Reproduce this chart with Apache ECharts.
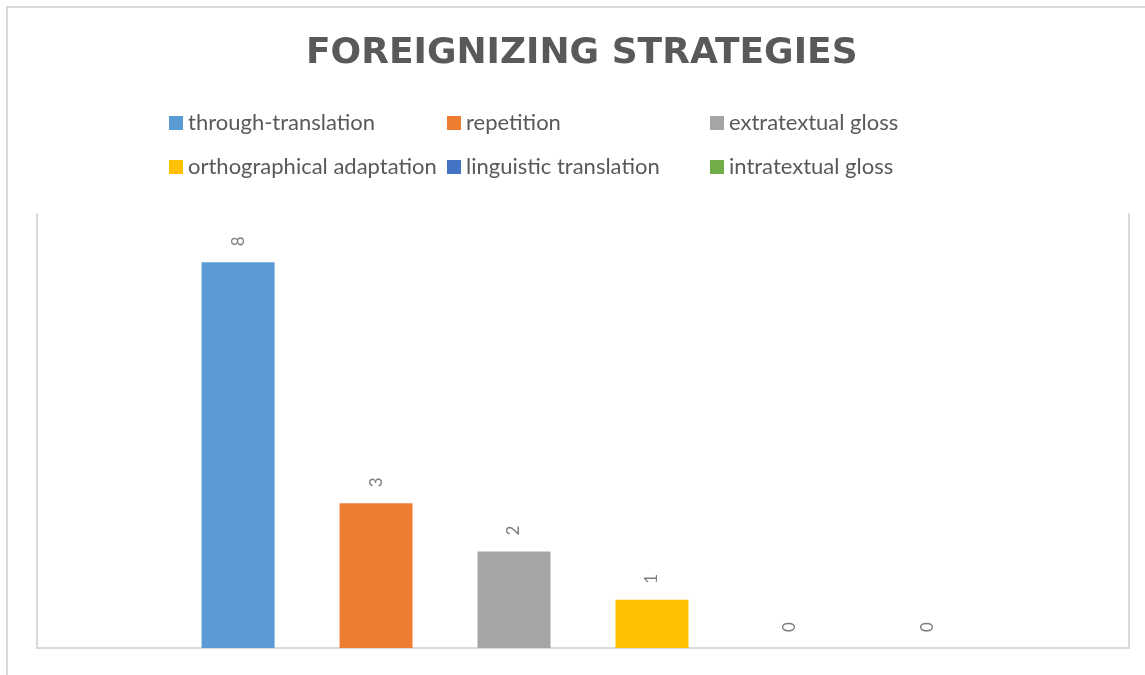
<!DOCTYPE html>
<html>
<head>
<meta charset="utf-8">
<script src="https://cdn.jsdelivr.net/npm/echarts@6/dist/echarts.min.js"></script>
<style>
  html, body { margin: 0; padding: 0; background: #fff; }
  #chart { width: 1145px; height: 675px; }
</style>
</head>
<body>
<div id="chart"></div>
<script>
// 数据
const categories = [''];
const strategyNames = [
  'through-translation', 'repetition', 'extratextual gloss',
  'orthographical adaptation', 'linguistic translation', 'intratextual gloss'
];
const strategyValues = [8, 3, 2, 1, 0, 0];
const strategyColors = ['#5b9bd5', '#ed7d31', '#a5a5a5', '#ffc000', '#4472c4', '#70ad47'];

const chart = echarts.init(document.getElementById('chart'));

// 图例：每项单独放，三列两行
const legendCols = [169, 447, 710];
const legendRows = [112, 156];
const legends = strategyNames.map((name, i) => ({
  left: legendCols[i % 3],
  top: legendRows[Math.floor(i / 3)],
  padding: 0,
  itemWidth: 14,
  itemHeight: 14,
  icon: 'rect',
  data: [name],
  textStyle: { color: '#595959', fontFamily: 'Lato', fontSize: 22 }
}));

const option = {
  backgroundColor: '#fff',
  title: {
    text: 'FOREIGNIZING STRATEGIES',
    left: 301,
    top: 31,
    textStyle: { color: '#595959', fontFamily: 'DejaVu Sans', fontWeight: 'bold', fontSize: 36 }
  },
  legend: legends,
  graphic: [{
    type: 'rect',
    shape: { x: 7, y: 7, width: 1150, height: 680 },
    style: { fill: null, stroke: '#d9d9d9', lineWidth: 2 },
    silent: true
  }],
  grid: { left: 37, right: 16, top: 214, bottom: 27 },
  xAxis: {
    type: 'category',
    data: categories,
    axisLine: { lineStyle: { color: '#d9d9d9', width: 2 } },
    axisTick: { show: false },
    axisLabel: { show: false }
  },
  yAxis: [
    {
      type: 'value', min: 0, max: 9,
      axisLine: { show: true, lineStyle: { color: '#d9d9d9', width: 2 } },
      axisLabel: { show: false },
      axisTick: { show: false },
      splitLine: { show: false }
    },
    {
      type: 'value', min: 0, max: 9, position: 'right',
      axisLine: { show: true, lineStyle: { color: '#d9d9d9', width: 2 } },
      axisLabel: { show: false },
      axisTick: { show: false },
      splitLine: { show: false }
    }
  ],
  series: strategyNames.map((name, i) => ({
    type: 'bar',
    name,
    data: [strategyValues[i]],
    barWidth: 73,
    barGap: '89%',
    itemStyle: { color: strategyColors[i] },
    label: {
      show: true,
      position: 'top',
      distance: 16,
      rotate: 90,
      align: 'left',
      verticalAlign: 'middle',
      color: '#7f7f7f',
      fontFamily: 'Lato',
      fontSize: 17
    }
  }))
};

chart.setOption(option);
</script>
</body>
</html>
